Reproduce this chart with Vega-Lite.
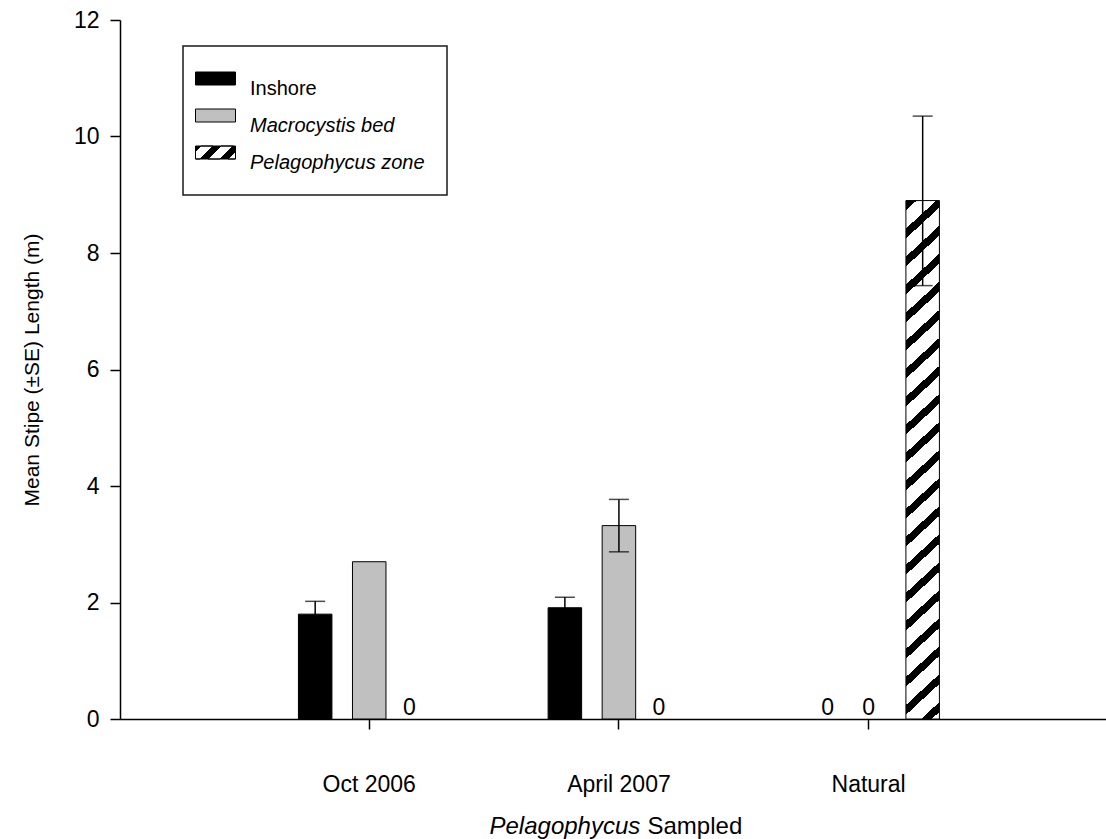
{
  "$schema": "https://vega.github.io/schema/vega-lite/v6.json",
  "width": 986,
  "height": 699,
  "autosize": {"type": "none"},
  "padding": {"left": 120, "top": 20, "right": 0, "bottom": 120},
  "background": "white",
  "data": {
    "values": [
      {"group": "Oct 2006", "series": "Inshore", "mean": 1.80, "lower": 1.58, "upper": 2.02},
      {"group": "Oct 2006", "series": "Macrocystis bed", "mean": 2.70, "lower": null, "upper": null},
      {"group": "Oct 2006", "series": "Pelagophycus zone", "mean": 0, "lower": null, "upper": null},
      {"group": "April 2007", "series": "Inshore", "mean": 1.91, "lower": 1.73, "upper": 2.09},
      {"group": "April 2007", "series": "Macrocystis bed", "mean": 3.32, "lower": 2.87, "upper": 3.77},
      {"group": "April 2007", "series": "Pelagophycus zone", "mean": 0, "lower": null, "upper": null},
      {"group": "Natural", "series": "Inshore", "mean": 0, "lower": null, "upper": null},
      {"group": "Natural", "series": "Macrocystis bed", "mean": 0, "lower": null, "upper": null},
      {"group": "Natural", "series": "Pelagophycus zone", "mean": 8.90, "lower": 7.44, "upper": 10.35}
    ]
  },
  "layer": [
    {
      "transform": [{"filter": "datum.mean > 0"}],
      "mark": {"type": "bar", "stroke": "#000000", "strokeWidth": 1},
      "encoding": {
        "x": {"field": "group", "type": "nominal",
          "scale": {"domain": ["Oct 2006", "April 2007", "Natural"], "paddingInner": 0, "paddingOuter": 0.4744, "align": 0.525},
          "axis": {"orient": "bottom", "title": "Pelagophycus", "titleFontStyle": "italic", "titleX": 369, "titleY": 114, "titleAlign": "left", "titleBaseline": "alphabetic", "titleFontSize": 24,
            "labelAngle": 0, "labelFontSize": 23, "labelPadding": 44, "tickSize": 10, "tickWidth": 1.5, "domainWidth": 1.5}},
        "xOffset": {"field": "series", "type": "nominal",
          "scale": {"domain": ["Inshore", "Macrocystis bed", "Pelagophycus zone"], "paddingInner": 0.38, "paddingOuter": 1.187}},
        "y": {"field": "mean", "type": "quantitative",
          "scale": {"domain": [0, 12], "nice": false},
          "axis": {"title": "Mean Stipe (±SE) Length (m)", "values": [0, 2, 4, 6, 8, 10, 12], "format": "d", "labelFontSize": 23, "labelPadding": 11,
            "tickSize": 10, "tickWidth": 1.5, "domainWidth": 1.5, "titleFontSize": 21, "titlePadding": 31}},
        "fill": {
          "condition": {"test": "datum.series === 'Pelagophycus zone'", "value":
            {"gradient": "linear", "x1": 0, "y1": 0, "x2": 0.0632, "y2": 1.0561, "stops": [
{"offset":0,"color":"#000"},{"offset":0.0179,"color":"#000"},{"offset":0.0179,"color":"#fff"},{"offset":0.051,"color":"#fff"},
{"offset":0.051,"color":"#000"},{"offset":0.0689,"color":"#000"},{"offset":0.0689,"color":"#fff"},{"offset":0.102,"color":"#fff"},
{"offset":0.102,"color":"#000"},{"offset":0.1199,"color":"#000"},{"offset":0.1199,"color":"#fff"},{"offset":0.153,"color":"#fff"},
{"offset":0.153,"color":"#000"},{"offset":0.1709,"color":"#000"},{"offset":0.1709,"color":"#fff"},{"offset":0.204,"color":"#fff"},
{"offset":0.204,"color":"#000"},{"offset":0.2219,"color":"#000"},{"offset":0.2219,"color":"#fff"},{"offset":0.255,"color":"#fff"},
{"offset":0.255,"color":"#000"},{"offset":0.2729,"color":"#000"},{"offset":0.2729,"color":"#fff"},{"offset":0.306,"color":"#fff"},
{"offset":0.306,"color":"#000"},{"offset":0.3239,"color":"#000"},{"offset":0.3239,"color":"#fff"},{"offset":0.357,"color":"#fff"},
{"offset":0.357,"color":"#000"},{"offset":0.3749,"color":"#000"},{"offset":0.3749,"color":"#fff"},{"offset":0.408,"color":"#fff"},
{"offset":0.408,"color":"#000"},{"offset":0.4259,"color":"#000"},{"offset":0.4259,"color":"#fff"},{"offset":0.459,"color":"#fff"},
{"offset":0.459,"color":"#000"},{"offset":0.4769,"color":"#000"},{"offset":0.4769,"color":"#fff"},{"offset":0.51,"color":"#fff"},
{"offset":0.51,"color":"#000"},{"offset":0.5279,"color":"#000"},{"offset":0.5279,"color":"#fff"},{"offset":0.561,"color":"#fff"},
{"offset":0.561,"color":"#000"},{"offset":0.5789,"color":"#000"},{"offset":0.5789,"color":"#fff"},{"offset":0.612,"color":"#fff"},
{"offset":0.612,"color":"#000"},{"offset":0.6299,"color":"#000"},{"offset":0.6299,"color":"#fff"},{"offset":0.663,"color":"#fff"},
{"offset":0.663,"color":"#000"},{"offset":0.6809,"color":"#000"},{"offset":0.6809,"color":"#fff"},{"offset":0.714,"color":"#fff"},
{"offset":0.714,"color":"#000"},{"offset":0.7319,"color":"#000"},{"offset":0.7319,"color":"#fff"},{"offset":0.765,"color":"#fff"},
{"offset":0.765,"color":"#000"},{"offset":0.7829,"color":"#000"},{"offset":0.7829,"color":"#fff"},{"offset":0.816,"color":"#fff"},
{"offset":0.816,"color":"#000"},{"offset":0.8339,"color":"#000"},{"offset":0.8339,"color":"#fff"},{"offset":0.867,"color":"#fff"},
{"offset":0.867,"color":"#000"},{"offset":0.8849,"color":"#000"},{"offset":0.8849,"color":"#fff"},{"offset":0.918,"color":"#fff"},
{"offset":0.918,"color":"#000"},{"offset":0.9359,"color":"#000"},{"offset":0.9359,"color":"#fff"},{"offset":0.969,"color":"#fff"},
{"offset":0.969,"color":"#000"},{"offset":0.9869,"color":"#000"},{"offset":0.9869,"color":"#fff"},{"offset":1,"color":"#fff"}
            ]}},
          "field": "series", "type": "nominal",
          "scale": {"domain": ["Inshore", "Macrocystis bed", "Pelagophycus zone"], "range": ["#000000", "#c0c0c0", "#000000"]},
          "legend": {"orient": "none", "legendX": 63, "legendY": 26, "title": null,
            "symbolSize": 400, "symbolStrokeColor": "#000000", "symbolStrokeWidth": 1, "symbolOpacity": 1,
            "symbolOffset": 0, "padding": 22, "rowPadding": 6, "labelFontSize": 20, "labelOffset": 24, "labelColor": "#000000",
            "labelBaseline": "top", "labelLimit": 300, "strokeColor": "#1a1a1a",
            "encode": {
              "legend": {"update": {"strokeWidth": {"value": 1.5}}},
              "labels": {"update": {"fontStyle": {"signal": "datum.value === 'Inshore' ? 'normal' : 'italic'"}}}
            }}}
      }
    },
    {
      "transform": [{"filter": "datum.upper != null"}],
      "mark": {"type": "rule", "color": "#000000", "strokeWidth": 1.5},
      "encoding": {
        "x": {"field": "group", "type": "nominal", "axis": null},
        "xOffset": {"field": "series", "type": "nominal"},
        "y": {"field": "lower", "type": "quantitative"},
        "y2": {"field": "upper"}
      }
    },
    {
      "transform": [{"filter": "datum.upper != null"}],
      "mark": {"type": "tick", "color": "#000000", "thickness": 1.5, "size": 20, "orient": "horizontal"},
      "encoding": {
        "x": {"field": "group", "type": "nominal", "axis": null},
        "xOffset": {"field": "series", "type": "nominal"},
        "y": {"field": "upper", "type": "quantitative"}
      }
    },
    {
      "transform": [{"filter": "datum.lower != null"}],
      "mark": {"type": "tick", "color": "#000000", "thickness": 1.5, "size": 20, "orient": "horizontal"},
      "encoding": {
        "x": {"field": "group", "type": "nominal", "axis": null},
        "xOffset": {"field": "series", "type": "nominal"},
        "y": {"field": "lower", "type": "quantitative"}
      }
    },
    {
      "transform": [{"filter": "datum.mean == 0 && datum.series == 'Inshore'"}],
      "mark": {"type": "text", "fontSize": 23, "baseline": "alphabetic", "dy": -4, "dx": 13, "color": "#000000"},
      "encoding": {
        "x": {"field": "group", "type": "nominal", "axis": null},
        "xOffset": {"field": "series", "type": "nominal"},
        "y": {"field": "mean", "type": "quantitative"},
        "text": {"field": "mean", "type": "quantitative"}
      }
    },
    {
      "transform": [{"filter": "datum.mean == 0 && datum.series == 'Macrocystis bed'"}],
      "mark": {"type": "text", "fontSize": 23, "baseline": "alphabetic", "dy": -4, "dx": 0, "color": "#000000"},
      "encoding": {
        "x": {"field": "group", "type": "nominal", "axis": null},
        "xOffset": {"field": "series", "type": "nominal"},
        "y": {"field": "mean", "type": "quantitative"},
        "text": {"field": "mean", "type": "quantitative"}
      }
    },
    {
      "transform": [{"filter": "datum.mean == 0 && datum.series == 'Pelagophycus zone'"}],
      "mark": {"type": "text", "fontSize": 23, "baseline": "alphabetic", "dy": -4, "dx": -14, "color": "#000000"},
      "encoding": {
        "x": {"field": "group", "type": "nominal", "axis": null},
        "xOffset": {"field": "series", "type": "nominal"},
        "y": {"field": "mean", "type": "quantitative"},
        "text": {"field": "mean", "type": "quantitative"}
      }
    },
    {
      "mark": {"type": "point", "opacity": 0},
      "encoding": {
        "x": {"field": "group", "type": "nominal",
          "axis": {"orient": "bottom", "title": "Sampled", "titleX": 527, "titleY": 114, "titleAlign": "left", "titleBaseline": "alphabetic", "titleFontSize": 24, "titleFontStyle": "normal",
            "domain": false, "ticks": false, "labels": false}},
        "xOffset": {"field": "series", "type": "nominal"},
        "y": {"field": "mean", "type": "quantitative"},
        "shape": {"field": "series", "type": "nominal",
          "scale": {"domain": ["Inshore", "Macrocystis bed", "Pelagophycus zone"], "range": [
            "M-2,-0.65H2V0.65H-2Z",
            "M-2,-0.65H2V0.65H-2Z",
            "M-2,-0.65H2V0.65H-2Z M-1.45,-0.65L-2,-0.1L-2,0.65L-1.55,0.65L-0.25,-0.65Z M0.55,-0.65L-0.75,0.65L0.45,0.65L1.75,-0.65Z M2,-0.1L1.25,0.65L2,0.65Z"]},
          "legend": {"orient": "none", "legendX": 63, "legendY": 26, "title": null,
            "symbolSize": 400, "symbolStrokeColor": "#000000", "symbolStrokeWidth": 1, "symbolOpacity": 1,
            "symbolOffset": 0, "padding": 22, "rowPadding": 6, "labelFontSize": 20, "labelOffset": 24, "labelColor": "#000000",
            "labelBaseline": "top", "labelLimit": 300, "strokeColor": "#1a1a1a",
            "encode": {
              "legend": {"update": {"strokeWidth": {"value": 1.5}}},
              "labels": {"update": {"fontStyle": {"signal": "datum.value === 'Inshore' ? 'normal' : 'italic'"}}}
            }}}
      }
    }
  ],
  "resolve": {"axis": {"x": "independent"}},
  "config": {
    "font": "Liberation Sans",
    "view": {"stroke": null},
    "axis": {"domainColor": "#000000", "tickColor": "#000000", "labelColor": "#000000", "titleColor": "#000000", "titleFontWeight": "normal", "grid": false},
    "legend": {"titleFontWeight": "normal"}
  }
}
